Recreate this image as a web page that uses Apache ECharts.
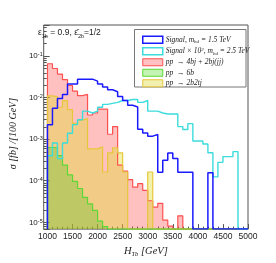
<!DOCTYPE html>
<html><head><meta charset="utf-8">
<script src="https://cdn.jsdelivr.net/npm/echarts@6/dist/echarts.min.js"></script>
<style>html,body{margin:0;padding:0;background:#fff}#c{width:276px;height:263px}</style>
</head><body><div id="c"></div>
<script>
// ---- data (bins of 100 GeV, 1000..5000) ----
const binEdges = [1000,1100,1200,1300,1400,1500,1600,1700,1800,1900,2000,2100,2200,2300,2400,2500,2600,2700,2800,2900,3000,3100,3200,3300,3400,3500,3600,3700,3800,3900,4000,4100,4200,4300,4400,4500,4600,4700,4800,4900,5000];
const xTickLabels = [1000,1500,2000,2500,3000,3500,4000,4500,5000];
const yMinorTicks = [7e-6,8e-6,9e-6,2e-5,3e-5,4e-5,5e-5,6e-5,7e-5,8e-5,9e-5,2e-4,3e-4,4e-4,5e-4,6e-4,7e-4,8e-4,9e-4,2e-3,3e-3,4e-3,5e-3,6e-3,7e-3,8e-3,9e-3,2e-2,3e-2,4e-2,5e-2,6e-2,7e-2,8e-2,9e-2,2e-1,3e-1,4e-1,5e-1];
const signal15 = [2.23e-3,5.55e-3,9.5e-3,1.18e-2,2.12e-2,2.12e-2,2.77e-2,2.77e-2,2.77e-2,2.48e-2,2.12e-2,1.80e-2,1.54e-2,1.38e-2,1.06e-2,8.5e-3,6.5e-3,5.9e-3,1.74e-3,1.40e-3,1.18e-3,1.29e-3,1.6e-4,3.1e-4,4.65e-4,3.4e-4,1.6e-4,1.6e-4,1.6e-4,0,0,0,1.55e-4,0,0,0,0,0,0,0];
const signal25x100 = [4.0e-4,8.1e-4,3.4e-4,8.1e-4,1.38e-3,2.23e-3,2.92e-3,4.72e-3,4.25e-3,4.72e-3,5.85e-3,6.87e-3,7.25e-3,7.65e-3,8.5e-3,8.5e-3,9.0e-3,9.0e-3,7.65e-3,8.5e-3,4.72e-3,4.72e-3,4.25e-3,4.03e-3,4.03e-3,4.03e-3,2.0e-3,1.71e-3,2.36e-3,9.0e-4,9.0e-4,7.65e-4,4.72e-4,1.24e-4,2.77e-4,3.8e-4,3.8e-4,5.0e-4,0,0];
const bkg4bj = [6.5e-2,5.0e-2,3.67e-2,2.69e-2,1.95e-2,1.43e-2,1.11e-2,1.19e-2,3.8e-3,4.25e-3,5.26e-3,5.26e-3,1.31e-3,2.0e-3,2.36e-4,1.71e-4,1.06e-4,7.0e-5,8.5e-5,5.85e-5,3.3e-5,2.32e-5,2.87e-5,1.13e-5,8.1e-6,0,1.43e-5,0,0,0,0,0,0,0,0,0,0,0,0,0];
const bkg6b = [6.3e-4,6.2e-4,4.0e-4,2.36e-4,1.38e-4,9.6e-5,6.5e-5,3.96e-5,2.77e-5,1.93e-5,1.07e-5,7.9e-6,0,0,0,0,0,0,0,0,0,0,0,0,0,0,0,0,0,0,0,0,0,0,0,0,0,0,0,0];
const bkg2b2tj = [1.1e-2,1.05e-2,5.85e-3,8.4e-3,5.1e-3,2.4e-3,2.87e-3,3.1e-3,5.85e-4,5.85e-4,6.5e-4,1.62e-4,4.7e-4,6.2e-4,4.7e-4,1.62e-4,0,0,0,0,1.62e-4,0,0,0,0,0,0,0,0,0,0,0,0,0,0,0,0,0,0,0];
const legendTexts = {
  sig15: '{t|Signal, m}{sb|bd}{t| = 1.5 TeV}',
  sig25: '{t|Signal \u00d7 10}{sp|2}{t|, m}{sb|bd}{t| = 2.5 TeV}',
  bkg4bj: '{t|pp  \u2192 4bj + 2bj(jj)}',
  bkg6b: '{t|pp  \u2192 6b}',
  bkg2b2tj: '{t|pp  \u2192 2b2tj}'
};

// ---- layout / style ----
const Y_MIN = 6.87e-6, Y_MAX = 0.555, X_MIN = 925, X_MAX = 5000;
const BLUE = '#1a1aff', CYAN = '#3cdcdc', RED = '#ff5050', GREEN = '#5cd836', YEL = '#e6c73c';
const FILL_RED = 'rgba(255,60,60,0.32)', FILL_GREEN = 'rgba(80,200,30,0.32)', FILL_YEL = 'rgba(220,220,40,0.38)';
const FRAME = '#555';

function stepData(vals) {
  const pts = [[binEdges[0], Y_MIN]];
  for (let i = 0; i < vals.length; i++) {
    const v = vals[i] > 0 ? vals[i] : Y_MIN;
    pts.push([binEdges[i], v], [binEdges[i + 1], v]);
  }
  pts.push([binEdges[binEdges.length - 1], Y_MIN]);
  return pts;
}
function histSeries(name, vals, color, width, fill, z) {
  const s = { name, type: 'line', data: stepData(vals), showSymbol: false, symbol: 'none',
    lineStyle: { color, width }, itemStyle: { color }, z, clip: true };
  if (fill) s.areaStyle = { color: fill, origin: 'start', opacity: 1 };
  return s;
}
const serif = 'Liberation Serif';
const sans = 'Liberation Sans';
const chart = echarts.init(document.getElementById('c'), null, { renderer: 'canvas' });
chart.setOption({
  animation: false,
  backgroundColor: '#fff',
  grid: { left: 33, top: 25, width: 215, height: 211, show: true, borderColor: FRAME, borderWidth: 1, backgroundColor: 'transparent' },
  xAxis: [{
    type: 'value', min: X_MIN, max: X_MAX, position: 'bottom',
    axisLine: { show: false }, splitLine: { show: false },
    axisTick: { inside: true, length: 5, customValues: xTickLabels, lineStyle: { color: FRAME } },
    axisLabel: { customValues: xTickLabels, margin: 3, fontFamily: sans, fontSize: 8.5, color: '#222', formatter: v => String(v) },
    name: '{h|H}{sb|Tb}{h| [GeV]}', nameLocation: 'middle', nameGap: 13,
    nameTextStyle: { rich: {
      h: { fontFamily: serif, fontStyle: 'italic', fontSize: 10.5, color: '#222', lineHeight: 12, verticalAlign: 'top' },
      sb: { fontFamily: serif, fontStyle: 'italic', fontSize: 6.5, color: '#222', lineHeight: 7, verticalAlign: 'bottom' } } }
  }, {
    type: 'value', min: X_MIN, max: X_MAX, position: 'bottom',
    axisLine: { show: false }, splitLine: { show: false }, axisLabel: { show: false },
    axisTick: { inside: true, length: 2.5, customValues: binEdges, lineStyle: { color: FRAME } }
  }],
  yAxis: {
    type: 'log', logBase: 10, min: Y_MIN, max: Y_MAX,
    axisLine: { show: false }, splitLine: { show: false },
    axisTick: { inside: true, length: 6, lineStyle: { color: FRAME } },
    axisLabel: {
      margin: 1,
      formatter: v => { const e = Math.log10(v); if (Math.abs(e - Math.round(e)) > 1e-6) return ''; return '{b|10}{s|' + Math.round(e) + '}'; },
      rich: {
        b: { fontFamily: sans, fontSize: 8, color: '#222', lineHeight: 8, verticalAlign: 'bottom' },
        s: { fontFamily: sans, fontSize: 5.5, color: '#222', lineHeight: 6, padding: [0, 0, 5, 0], verticalAlign: 'top' }
      }
    },
    name: '\u03c3 [fb] /[100 GeV]', nameLocation: 'middle', nameGap: 24, nameRotate: 90,
    nameTextStyle: { fontFamily: serif, fontStyle: 'italic', fontSize: 10, color: '#222', padding: [0, 13, 0, 0] }
  },
  legend: {
    orient: 'vertical', left: 137, top: 30.5, itemWidth: 20, itemHeight: 7, itemGap: 2.5, icon: 'rect',
    selectedMode: false,
    data: [
      { name: 'sig15', itemStyle: { color: '#fff', borderColor: BLUE, borderWidth: 1.5 } },
      { name: 'sig25', itemStyle: { color: '#fff', borderColor: CYAN, borderWidth: 1.5 } },
      { name: 'bkg4bj', itemStyle: { color: '#ffc1c1', borderColor: RED, borderWidth: 1 } },
      { name: 'bkg6b', itemStyle: { color: '#c4f4b4', borderColor: GREEN, borderWidth: 1 } },
      { name: 'bkg2b2tj', itemStyle: { color: '#f2f0b0', borderColor: YEL, borderWidth: 1 } }
    ],
    formatter: n => legendTexts[n],
    textStyle: { fontFamily: serif, fontStyle: 'italic', fontSize: 7.5, color: '#222', padding: [0, 0, 0, -2],
      rich: {
        t: { fontFamily: serif, fontStyle: 'italic', fontSize: 7.5, color: '#222', lineHeight: 9, verticalAlign: 'middle' },
        sb: { fontFamily: serif, fontStyle: 'italic', fontSize: 5, color: '#222', lineHeight: 5, verticalAlign: 'bottom' },
        sp: { fontFamily: serif, fontStyle: 'italic', fontSize: 5, color: '#222', lineHeight: 5, verticalAlign: 'top' }
      } }
  },
  graphic: [
    { type: 'rect', z: 3, shape: { x: 134.5, y: 29.5, width: 111.5, height: 57.5 }, style: { fill: '#fff', stroke: '#777', lineWidth: 1 } },
    { type: 'text', z: 10, x: 38, y: 28, style: {
      text: '{a|\u03b5}{s|1b}{a| = 0.9, \u03b5\u0304}{s|2b}{a|=1/2}',
      rich: {
        a: { fontFamily: sans, fontSize: 8.5, fill: '#222', lineHeight: 11, verticalAlign: 'top' },
        s: { fontFamily: sans, fontSize: 5.5, fill: '#222', lineHeight: 6, verticalAlign: 'bottom' }
      } } }
  ],
  series: [
    histSeries('bkg4bj', bkg4bj, RED, 1.2, FILL_RED, 2),
    histSeries('bkg2b2tj', bkg2b2tj, YEL, 1.2, FILL_YEL, 2),
    histSeries('bkg6b', bkg6b, GREEN, 1.2, FILL_GREEN, 2),
    histSeries('sig25', signal25x100, CYAN, 1.4, null, 2),
    histSeries('sig15', signal15, BLUE, 1.5, null, 2),
    { type: 'custom', silent: true, z: 5, data: yMinorTicks.map(v => [X_MIN, v]),
      renderItem: (params, api) => {
        const p = api.coord([api.value(0), api.value(1)]);
        const y = Math.round(p[1]) + 0.5;
        return { type: 'line', shape: { x1: p[0], y1: y, x2: p[0] + 3, y2: y }, style: { stroke: FRAME, lineWidth: 1 } };
      } }
  ]
});
</script></body></html>
